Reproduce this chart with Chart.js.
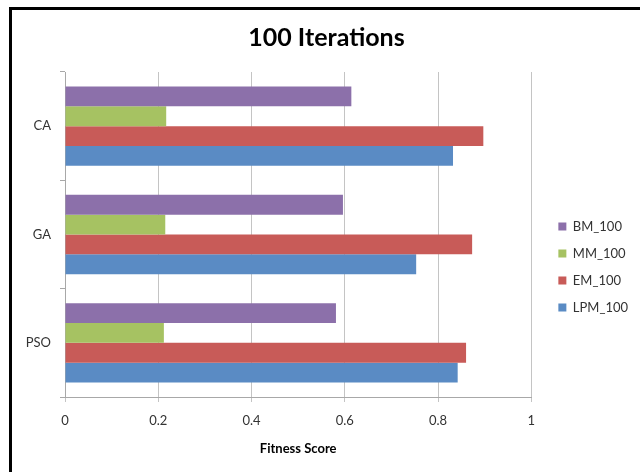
<!DOCTYPE html>
<html><head><meta charset="utf-8">
<script src="https://cdn.jsdelivr.net/npm/chart.js@4.4.0/dist/chart.umd.min.js"></script>
<style>
html,body{margin:0;padding:0;background:#fff;overflow:hidden;width:640px;height:472px}
#wrap{position:absolute;left:0;top:0;width:640px;height:472px}
#frame{position:absolute;left:9px;top:7px;width:700px;height:600px;border:3px solid #000;pointer-events:none}
</style></head><body>
<div id="wrap"><canvas id="c" width="640" height="472"></canvas></div>
<div id="frame"></div>
<script>
const categories = ['CA', 'GA', 'PSO'];
const seriesNames = ['BM_100', 'MM_100', 'EM_100', 'LPM_100'];
const bmValues  = [0.614, 0.596, 0.581];
const mmValues  = [0.217, 0.215, 0.212];
const emValues  = [0.897, 0.873, 0.860];
const lpmValues = [0.832, 0.753, 0.842];
const xTickValues = [0, 0.2, 0.4, 0.6, 0.8, 1];
const chartTitle = '100 Iterations';
const xAxisTitle = 'Fitness Score';

const colors = ['#8c70aa', '#a6c262', '#c85b58', '#5a8bc4'];
const seriesValues = [bmValues, mmValues, emValues, lpmValues];
const FONT = 'Lato, "Open Sans", sans-serif';

const boxShift = {
  id: 'boxShift',
  afterLayout(chart) {
    const l = chart.legend;
    if (l) { l.left += 13; l.right += 13; l.top += 31; l.bottom += 31; }
    const t = chart.titleBlock;
    if (t) { t.left += 14; t.right += 14; }
  }
};

new Chart(document.getElementById('c'), {
  type: 'bar',
  data: {
    labels: categories,
    datasets: seriesNames.map((name, i) => ({
      label: name,
      data: seriesValues[i],
      backgroundColor: colors[i],
      borderWidth: 0,
      categoryPercentage: 0.732,
      barPercentage: 1.0
    }))
  },
  options: {
    indexAxis: 'y',
    responsive: false,
    animation: false,
    devicePixelRatio: 1,
    layout: { padding: { left: 0, right: 15, top: 0, bottom: 0 } },
    plugins: {
      title: {
        display: true,
        text: chartTitle,
        color: '#000',
        font: { family: FONT, size: 25, weight: 'bold' },
        padding: { top: 23, bottom: 19 }
      },
      legend: {
        display: true,
        position: 'right',
        align: 'center',
        labels: {
          color: '#333',
          font: { family: FONT, size: 13 },
          boxWidth: 8,
          boxHeight: 8,
          padding: 14
        }
      },
      tooltip: { enabled: false }
    },
    scales: {
      x: {
        type: 'linear',
        min: 0,
        max: 1,
        afterBuildTicks(scale) { scale.ticks = xTickValues.map(v => ({ value: v })); },
        afterFit(scale) { scale.height = 75; },
        ticks: {
          color: '#333',
          font: { family: FONT, size: 13 },
          padding: 11,
          callback: (v) => String(v)
        },
        grid: {
          color: '#c4c4c4',
          lineWidth: 1,
          tickLength: 5,
          drawTicks: true
        },
        border: { display: true, color: '#a8a8a8', width: 1 },
        title: {
          display: true,
          text: xAxisTitle,
          color: '#000',
          font: { family: FONT, size: 13, weight: 'bold' },
          padding: { top: 0, bottom: 15 }
        }
      },
      y: {
        type: 'category',
        afterFit(scale) { scale.width = 65; },
        ticks: {
          color: '#333',
          font: { family: FONT, size: 13 },
          padding: 9
        },
        grid: {
          drawOnChartArea: false,
          drawTicks: true,
          tickLength: 5,
          color: '#a8a8a8',
          offset: true
        },
        border: { display: true, color: '#a8a8a8', width: 1 }
      }
    }
  },
  plugins: [boxShift]
});
</script>
</body></html>
